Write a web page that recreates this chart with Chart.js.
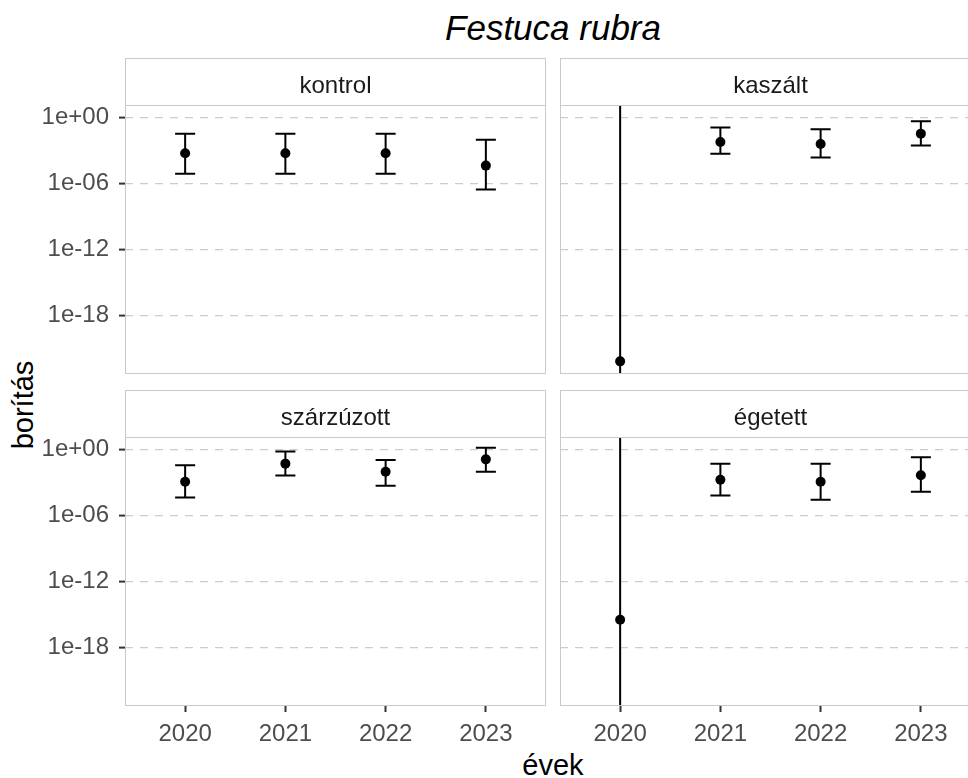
<!DOCTYPE html>
<html>
<head>
<meta charset="utf-8">
<script src="https://cdn.jsdelivr.net/npm/chart.js@4.4.1/dist/chart.umd.min.js"></script>
<style>
  html, body { margin: 0; padding: 0; background: #fff; overflow: hidden; }
  #wrap { position: relative; width: 968px; height: 778px; overflow: hidden;
          font-family: "Liberation Sans", Arial, sans-serif; }
  #wrap canvas { position: absolute; }
  .lbl { position: absolute; white-space: nowrap; line-height: 1; color: #000;
         transform: translate(-50%, -50%); }
</style>
</head>
<body>
<div id="wrap">
  <div class="lbl" style="left:553px; top:27px; font-size:35px; font-style:italic;">Festuca rubra</div>
  <div class="lbl" style="left:553px; top:765px; font-size:29px;">évek</div>
  <div class="lbl" style="left:23px; top:405px; font-size:29px; transform:translate(-50%,-50%) rotate(-90deg);">borítás</div>
  <canvas id="p0" width="546" height="316" style="left:0px; top:58px;"></canvas>
  <canvas id="p1" width="421" height="316" style="left:560px; top:58px;"></canvas>
  <canvas id="p2" width="546" height="356" style="left:0px; top:390px;"></canvas>
  <canvas id="p3" width="421" height="356" style="left:560px; top:390px;"></canvas>
</div>
<script>
// Survey years and treatments
const years = [2020, 2021, 2022, 2023];
const treatments = ['kontrol', 'kaszált', 'szárzúzott', 'égetett'];

// Cover estimates (borítás) with lower / upper interval bounds per treatment
const kontrolMean = [5.4e-4, 5.4e-4, 5.4e-4, 4.1e-5];
const kontrolLow  = [7.6e-6, 7.6e-6, 7.6e-6, 2.7e-7];
const kontrolHigh = [3.3e-2, 3.3e-2, 3.3e-2, 9.3e-3];

const kaszaltMean = [6.6e-23, 5.8e-3, 3.8e-3, 3.3e-2];
const kaszaltLow  = [1e-30, 5.0e-4, 2.2e-4, 2.7e-3];
const kaszaltHigh = [1e3, 0.12, 8.1e-2, 0.44];

const szarzuzottMean = [1.15e-3, 5.0e-2, 9.3e-3, 0.123];
const szarzuzottLow  = [4.1e-5, 4.1e-3, 5.0e-4, 9.3e-3];
const szarzuzottHigh = [3.5e-2, 0.62, 0.107, 1.41];

const egetettMean = [3.3e-16, 1.7e-3, 1.15e-3, 4.4e-3];
const egetettLow  = [1e-30, 6.2e-5, 2.6e-5, 1.4e-4];
const egetettHigh = [1e3, 5.0e-2, 5.0e-2, 0.186];

// Log-scale breaks on the y axis
const yTicks = [1e-18, 1e-12, 1e-6, 1];
const yTickLabels = ['1e-18', '1e-12', '1e-06', '1e+00'];

const FONT = '"Liberation Sans", Arial, sans-serif';
const BORDER = '#c9c9c9';

// Strip header and panel frame
const facetFrame = {
  id: 'facetFrame',
  afterDraw(chart, args, opts) {
    const { ctx, chartArea: a } = chart;
    ctx.save();
    ctx.strokeStyle = BORDER;
    ctx.lineWidth = 1;
    ctx.strokeRect(a.left + 0.5, 0.5, a.width - 1, a.top);
    ctx.strokeRect(a.left + 0.5, a.top + 0.5, a.width - 1, a.height - 1);
    ctx.fillStyle = '#1a1a1a';
    ctx.font = '24px ' + FONT;
    ctx.textAlign = 'center';
    ctx.textBaseline = 'alphabetic';
    ctx.fillText(opts.label, (a.left + a.right) / 2, a.top - 12.5);
    ctx.restore();
  }
};

// Vertical interval with end caps, drawn beneath the points
const errorBars = {
  id: 'errorBars',
  beforeDatasetsDraw(chart, args, opts) {
    const { ctx, chartArea: a, scales: { x, y } } = chart;
    ctx.save();
    ctx.beginPath();
    ctx.rect(a.left, a.top, a.width, a.height);
    ctx.clip();
    ctx.strokeStyle = '#000';
    ctx.lineWidth = 2;
    years.forEach((yr, i) => {
      const px = x.getPixelForValue(yr);
      const half = x.getPixelForValue(yr + opts.capWidth / 2) - px;
      const top = y.getPixelForValue(opts.high[i]);
      const bot = y.getPixelForValue(opts.low[i]);
      ctx.beginPath();
      ctx.moveTo(px, top); ctx.lineTo(px, bot);
      ctx.moveTo(px - half, top); ctx.lineTo(px + half, top);
      ctx.moveTo(px - half, bot); ctx.lineTo(px + half, bot);
      ctx.stroke();
    });
    ctx.restore();
  }
};

function facet(canvasId, label, mean, low, high, showY, showX) {
  return new Chart(document.getElementById(canvasId), {
    type: 'scatter',
    data: {
      datasets: [{
        data: years.map((yr, i) => ({ x: yr, y: mean[i] })),
        pointRadius: 5,
        pointBackgroundColor: '#000',
        pointBorderWidth: 0,
        showLine: false
      }]
    },
    options: {
      responsive: false,
      animation: false,
      events: [],
      layout: { autoPadding: false, padding: { top: 47, left: 0, right: 0, bottom: 0 } },
      plugins: {
        legend: { display: false },
        tooltip: { enabled: false },
        facetFrame: { label: label },
        errorBars: { low: low, high: high, capWidth: 0.2 }
      },
      scales: {
        x: {
          type: 'linear',
          display: showX,
          min: 2019.4,
          max: 2023.6,
          afterBuildTicks: s => { s.ticks = years.map(v => ({ value: v })); },
          afterFit: s => { s.height = showX ? 40 : 0; s.paddingLeft = 0; s.paddingRight = 0; },
          grid: { drawOnChartArea: false, drawTicks: true, tickLength: 6, tickColor: '#333', tickWidth: 2 },
          border: { display: false },
          ticks: {
            padding: 8, maxRotation: 0, autoSkip: false,
            color: '#4d4d4d', font: { family: FONT, size: 24 },
            callback: v => String(v)
          }
        },
        y: {
          type: 'logarithmic',
          bounds: 'data',
          min: 4.7e-24,
          max: 13.2,
          afterBuildTicks: s => { s.ticks = yTicks.map(v => ({ value: v })); },
          afterFit: s => { s.width = showY ? 125 : 0; s.paddingTop = 0; s.paddingBottom = 0; },
          grid: { color: '#cccccc', lineWidth: 1.2, drawTicks: showY, tickLength: 6, tickColor: '#333', tickWidth: 2 },
          border: { display: false, dash: [8, 7] },
          ticks: {
            display: showY, padding: 10,
            color: '#4d4d4d', font: { family: FONT, size: 24 },
            callback: v => yTickLabels[yTicks.indexOf(v)]
          }
        }
      }
    },
    plugins: [errorBars, facetFrame]
  });
}

facet('p0', treatments[0], kontrolMean, kontrolLow, kontrolHigh, true, false);
facet('p1', treatments[1], kaszaltMean, kaszaltLow, kaszaltHigh, false, false);
facet('p2', treatments[2], szarzuzottMean, szarzuzottLow, szarzuzottHigh, true, true);
facet('p3', treatments[3], egetettMean, egetettLow, egetettHigh, false, true);
</script>
</body>
</html>
